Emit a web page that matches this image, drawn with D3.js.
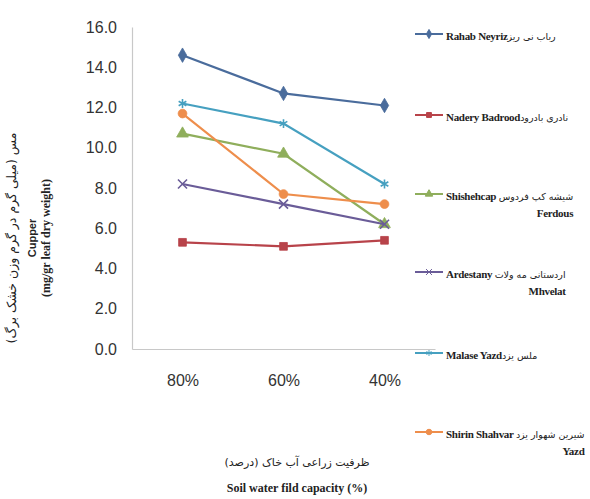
<!DOCTYPE html>
<html>
<head>
<meta charset="utf-8">
<script src="https://cdn.jsdelivr.net/npm/d3@7"></script>
<style>
  html, body { margin: 0; padding: 0; background: #ffffff; }
  svg { display: block; }
</style>
</head>
<body>
<svg id="chart" width="590" height="499"></svg>
<script>
// Soil water field capacity levels (x categories)
const categories = ["80%", "60%", "40%"];

// Copper content per cultivar (mg/gr leaf dry weight)
const rahabNeyriz       = [14.6, 12.7, 12.1];
const naderyBadrood     = [5.3, 5.1, 5.4];
const shishehcapFerdous = [10.7, 9.7, 6.2];
const ardestanyMhvelat  = [8.2, 7.2, 6.2];
const malaseYazd        = [12.2, 11.2, 8.2];
const shirinShahvarYazd = [11.7, 7.7, 7.2];

const yTicks = [0, 2, 4, 6, 8, 10, 12, 14, 16];

// Legend labels: English part, Persian part, optional second line
const seriesNames = [
  ["Rahab Neyriz", "رباب نی ریز", null],
  ["Nadery Badrood", "نادری بادرود", null],
  ["Shishehcap ", "شیشه کپ فردوس", "Ferdous"],
  ["Ardestany ", "اردستانی مه ولات", "Mhvelat"],
  ["Malase Yazd", "ملس یزد", null],
  ["Shirin Shahvar ", "شیرین شهوار یزد", "Yazd"]
];

const series = [
  { name: seriesNames[0], values: rahabNeyriz,       color: "#4a6c9c", symbol: "diamond" },
  { name: seriesNames[1], values: naderyBadrood,     color: "#b8434a", symbol: "square" },
  { name: seriesNames[2], values: shishehcapFerdous, color: "#8fae5c", symbol: "triangle" },
  { name: seriesNames[3], values: ardestanyMhvelat,  color: "#6a5c98", symbol: "times" },
  { name: seriesNames[4], values: malaseYazd,        color: "#46a0c0", symbol: "asterisk" },
  { name: seriesNames[5], values: shirinShahvarYazd, color: "#ee8e4c", symbol: "circle" }
];

const svg = d3.select("#chart");

const plot = { left: 132, right: 435, top: 27, bottom: 349 };

const x = d3.scalePoint()
  .domain(categories)
  .range([plot.left, plot.right])
  .padding(0.5);

const y = d3.scaleLinear()
  .domain([0, 16])
  .range([plot.bottom, plot.top]);

const tickFont = "'Liberation Sans Narrow', 'Liberation Sans', sans-serif";

// Axes
const yAxis = d3.axisLeft(y)
  .tickValues(yTicks)
  .tickFormat(d3.format(".1f"))
  .tickSize(0)
  .tickPadding(15);

const gy = svg.append("g")
  .attr("transform", `translate(${plot.left},0)`)
  .call(yAxis);
gy.select(".domain").attr("stroke", "#c8c8c8").attr("stroke-width", 1.2);
gy.selectAll("text")
  .attr("font-family", tickFont)
  .attr("font-size", 16)
  .attr("fill", "#333");

const xAxis = d3.axisBottom(x).tickSize(0).tickPadding(26);
const gx = svg.append("g")
  .attr("transform", `translate(0,${plot.bottom})`)
  .call(xAxis);
gx.select(".domain").attr("stroke", "#c8c8c8").attr("stroke-width", 1.2);
gx.selectAll("text")
  .attr("font-family", tickFont)
  .attr("font-size", 16)
  .attr("fill", "#333");

// Marker shapes
function symbolPath(kind, size) {
  const types = {
    diamond: d3.symbolDiamond,
    square: d3.symbolSquare,
    triangle: d3.symbolTriangle,
    times: d3.symbolTimes || d3.symbolCross,
    asterisk: d3.symbolAsterisk || d3.symbolCross,
    circle: d3.symbolCircle
  };
  return d3.symbol().type(types[kind]).size(size)();
}
function isStroked(kind) { return kind === "times" || kind === "asterisk"; }

const line = d3.line()
  .x((d, i) => x(categories[i]))
  .y(d => y(d));

const lines = svg.append("g");
series.forEach(s => {
  const g = lines.append("g");
  g.append("path")
    .datum(s.values)
    .attr("d", line)
    .attr("fill", "none")
    .attr("stroke", s.color)
    .attr("stroke-width", 2.2);
  g.selectAll("path.marker")
    .data(s.values)
    .join("path")
    .attr("class", "marker")
    .attr("transform", (d, i) => `translate(${x(categories[i])},${y(d)})`)
    .attr("d", symbolPath(s.symbol, isStroked(s.symbol) ? 55 : 60))
    .attr("fill", isStroked(s.symbol) ? "none" : s.color)
    .attr("stroke", s.color)
    .attr("stroke-width", isStroked(s.symbol) ? 1.6 : 0.8);
});

// Legend
const legendY = [34, 115, 194, 272, 353, 432];
const legend = svg.append("g");
series.forEach((s, i) => {
  const cy = legendY[i];
  const g = legend.append("g");
  g.append("line")
    .attr("x1", 415).attr("x2", 443)
    .attr("y1", cy).attr("y2", cy)
    .attr("stroke", s.color)
    .attr("stroke-width", 2);
  g.append("path")
    .attr("transform", `translate(429,${cy})`)
    .attr("d", symbolPath(s.symbol, 24))
    .attr("fill", isStroked(s.symbol) ? "none" : s.color)
    .attr("stroke", s.color)
    .attr("stroke-width", 1);
  const t1 = g.append("text")
    .attr("x", 446).attr("y", cy)
    .attr("dy", "0.35em")
    .attr("fill", "#222");
  t1.append("tspan")
    .attr("font-family", "'Liberation Serif', serif")
    .attr("font-weight", "bold")
    .attr("font-size", 11)
    .attr("letter-spacing", -0.3)
    .text(s.name[0]);
  t1.append("tspan")
    .attr("font-family", "'DejaVu Sans', sans-serif")
    .attr("font-size", 9.5)
    .attr("letter-spacing", -0.2)
    .text(s.name[1]);
  if (s.name[2]) {
    const w = t1.node().getComputedTextLength();
    g.append("text")
      .attr("x", 446 + w).attr("y", cy + 19)
      .attr("dy", "0.35em")
      .attr("text-anchor", "end")
      .attr("font-family", "'Liberation Serif', serif")
      .attr("font-weight", "bold")
      .attr("font-size", 11)
      .attr("letter-spacing", -0.3)
      .attr("fill", "#222")
      .text(s.name[2]);
  }
});

// Y axis title (rotated)
const yTitle = svg.append("g")
  .attr("transform", "translate(0,238) rotate(-90)");
yTitle.append("text")
  .attr("x", 0).attr("y", 16)
  .attr("text-anchor", "middle")
  .attr("font-family", "'DejaVu Sans', sans-serif")
  .attr("font-size", 12.5)
  .attr("fill", "#222")
  .text("مس (میلی گرم در گرم وزن خشک برگ)");
yTitle.append("text")
  .attr("x", 0).attr("y", 36)
  .attr("text-anchor", "middle")
  .attr("font-family", "'Liberation Sans', Arial, sans-serif")
  .attr("font-weight", "bold")
  .attr("font-size", 11)
  .attr("fill", "#222")
  .text("Cupper");
yTitle.append("text")
  .attr("x", 0).attr("y", 50)
  .attr("text-anchor", "middle")
  .attr("font-family", "'Liberation Serif', serif")
  .attr("font-weight", "bold")
  .attr("font-size", 12)
  .attr("fill", "#222")
  .text("(mg/gr leaf dry weight)");

// X axis title
svg.append("text")
  .attr("x", 297).attr("y", 466)
  .attr("text-anchor", "middle")
  .attr("font-family", "'DejaVu Sans', sans-serif")
  .attr("font-size", 11)
  .attr("fill", "#222")
  .text("ظرفیت زراعی آب خاک (درصد)");
svg.append("text")
  .attr("x", 297).attr("y", 492)
  .attr("text-anchor", "middle")
  .attr("font-family", "'Liberation Serif', serif")
  .attr("font-weight", "bold")
  .attr("font-size", 12)
  .attr("fill", "#222")
  .text("Soil water fild capacity (%)");
</script>
</body>
</html>
